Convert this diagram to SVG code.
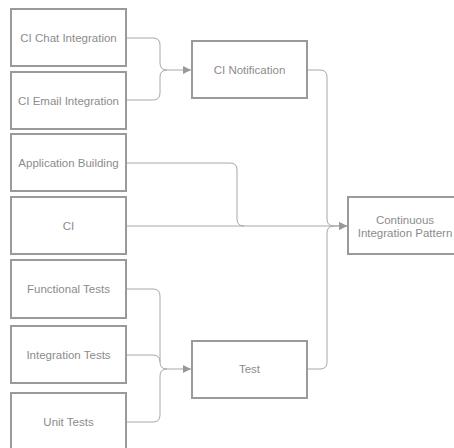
<svg xmlns="http://www.w3.org/2000/svg" width="454" height="448" viewBox="0 0 454 448">
<style>
.box{fill:#fff;stroke:#9a9a9a;stroke-width:2}
.lbl{font-family:"Liberation Sans",Arial,sans-serif;font-size:11.5px;fill:#8c8c8c;text-anchor:middle;dominant-baseline:central}
.con{fill:none;stroke:#a8a8a8;stroke-width:1}
</style>
<defs>
<marker id="arr" markerWidth="10" markerHeight="10" refX="8" refY="4" orient="auto" markerUnits="userSpaceOnUse">
<path d="M0,0 L8,4 L0,8 Z" fill="#999"/>
</marker>
</defs>
<rect width="454" height="448" fill="#fff"/>
<g id="connectors">
<path class="con" d="M126,38 H153 Q160,38 160,45 V63 Q160,70 167,70 H191" marker-end="url(#arr)"/>
<path class="con" d="M126,100 H153 Q160,100 160,93 V77 Q160,70 167,70"/>
<path class="con" d="M307,70 H320 Q327,70 327,77 V219 Q327,226 334,226 H347" marker-end="url(#arr)"/>
<path class="con" d="M307,369 H320 Q327,369 327,362 V233 Q327,226 334,226"/>
<path class="con" d="M126,163 H230 Q237,163 237,170 V219 Q237,226 244,226"/>
<path class="con" d="M126,226 H347" marker-end="url(#arr)"/>
<path class="con" d="M126,289 H153 Q160,289 160,296 V362 Q160,369 167,369 H191" marker-end="url(#arr)"/>
<path class="con" d="M126,355 H153 Q160,355 160,362"/>
<path class="con" d="M126,422 H153 Q160,422 160,415 V376 Q160,369 167,369"/>
</g>
<g id="chat"><rect class="box" x="11" y="9" width="115" height="57"/><text class="lbl" x="68.5" y="38">CI Chat Integration</text></g>
<g id="email"><rect class="box" x="11" y="72" width="115" height="57"/><text class="lbl" x="68.5" y="101">CI Email Integration</text></g>
<g id="appbuild"><rect class="box" x="11" y="134" width="115" height="57"/><text class="lbl" x="68.5" y="163">Application Building</text></g>
<g id="ci"><rect class="box" x="11" y="197" width="115" height="57"/><text class="lbl" x="68.5" y="226">CI</text></g>
<g id="functional"><rect class="box" x="11" y="260" width="115" height="58"/><text class="lbl" x="68.5" y="289">Functional Tests</text></g>
<g id="integration"><rect class="box" x="11" y="326" width="115" height="57"/><text class="lbl" x="68.5" y="355">Integration Tests</text></g>
<g id="unit"><rect class="box" x="11" y="393" width="115" height="57"/><text class="lbl" x="68.5" y="422">Unit Tests</text></g>
<g id="notification"><rect class="box" x="192" y="41" width="115" height="57"/><text class="lbl" x="249.5" y="70">CI Notification</text></g>
<g id="test"><rect class="box" x="192" y="341" width="115" height="57"/><text class="lbl" x="249.5" y="369">Test</text></g>
<g id="cip"><rect class="box" x="348" y="197" width="115" height="57"/><text class="lbl" x="405" y="219.5">Continuous</text><text class="lbl" x="405" y="233">Integration Pattern</text></g>
</svg>
